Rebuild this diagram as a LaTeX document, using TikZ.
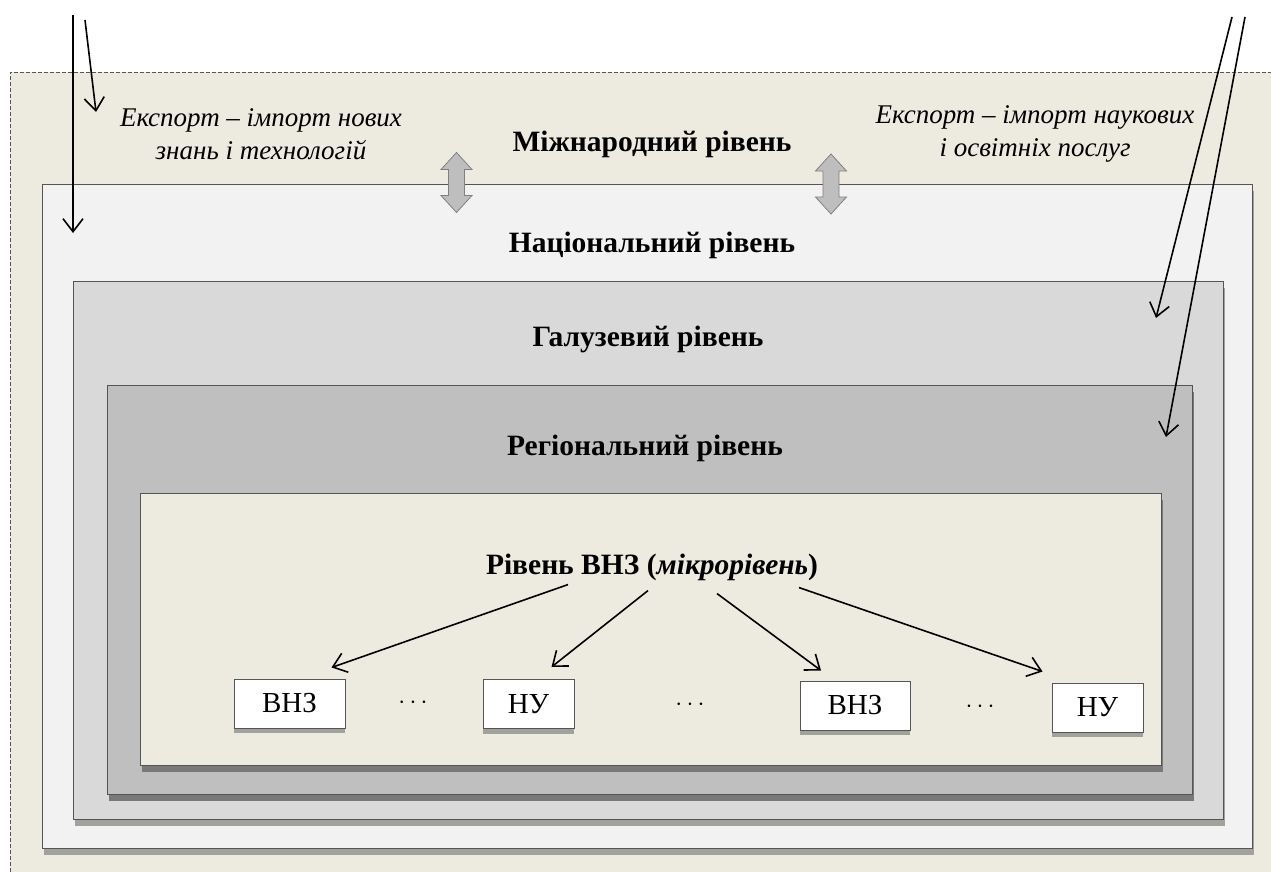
\documentclass[tikz,border=0pt]{standalone}
\usepackage{fontspec}
\setmainfont{Liberation Serif}
\usepackage{xcolor}
\usepackage{tikz}
\usetikzlibrary{positioning,calc,shadows,arrows.meta}

\definecolor{beige}{HTML}{EDEBE0}
\definecolor{natfill}{HTML}{F2F2F2}
\definecolor{galfill}{HTML}{D9D9D9}
\definecolor{regfill}{HTML}{BFBFBF}
\definecolor{boxline}{HTML}{555555}
\definecolor{shade}{HTML}{A2A29C}
\definecolor{darkshade}{HTML}{797979}
\definecolor{arrfill}{HTML}{BEBEBE}

\newcommand{\lblsize}{\fontsize{29}{33}\selectfont}

\tikzset{
  tier/.style={draw=boxline, line width=1pt, anchor=north west, inner sep=0pt,
    drop shadow={shadow xshift=1pt, shadow yshift=-6pt, fill=#1, opacity=1}},
  title/.style={font=\fontsize{29.5}{33}\selectfont\bfseries, inner sep=2pt},
  note/.style={font=\fontsize{27}{33}\selectfont\itshape, align=center, inner sep=2pt},
  unibox/.style={draw=boxline, fill=white, line width=1pt, minimum height=49pt,
    drop shadow={shadow xshift=0pt, shadow yshift=-5pt, fill=shade, opacity=1}},
  conn/.style={-{Straight Barb[length=13pt,width=20pt]}, line width=1.6pt},
  xarrow/.style={draw=gray, fill=arrfill, line width=0.8pt}
}

% grey two-way arrow between levels
\newcommand{\xchg}[1]{%
  \draw[xarrow] (#1) ++(0,-30) -- ++(15.5,17) -- ++(-7.5,0) -- ++(0,26) -- ++(7.5,0)
    -- ++(-15.5,17) -- ++(-15.5,-17) -- ++(7.5,0) -- ++(0,-26) -- ++(-7.5,0) -- cycle;}

\begin{document}
\begin{tikzpicture}[x=1pt, y=-1pt, font=\lblsize]
    \useasboundingbox (0,0) rectangle (1271,872);

    % Levels
    \node[draw=boxline, dash pattern=on 4pt off 2pt, fill=beige, anchor=north west,
      minimum width=1300pt, minimum height=840pt] (intl) at (10,72) {};
    \node[tier=shade, fill=natfill, minimum width=1210pt, minimum height=664pt] (nat) at (42,184) {};
    \node[tier=shade, fill=galfill, minimum width=1150pt, minimum height=538pt] (gal) at (73,281) {};
    \node[tier=darkshade, fill=regfill, minimum width=1085pt, minimum height=409pt] (reg) at (107,385) {};
    \node[tier=darkshade, fill=beige, minimum width=1021pt, minimum height=272pt] (mic) at (140,493) {};

    % Level titles
    \node[title] (intllbl) at (652,144) {Міжнародний рівень};
    \node[title] (natlbl) at (652,245) {Національний рівень};
    \node[title] (gallbl) at (648,339) {Галузевий рівень};
    \node[title] (reglbl) at (645,448) {Регіональний рівень};
    \node[title] (miclbl) at (652,567) {Рівень ВНЗ (\textit{мікрорівень})};

    % Export - import
    \node[note] (exp1) at (261,134) {Експорт – імпорт нових\\знань і технологій};
    \node[note] (exp2) at (1035,134) {Експорт – імпорт наукових\\і освітніх послуг};
    \coordinate (sw1) at (456.5,182.5);
    \coordinate (sw2) at (831,184);
    \xchg{sw1}
    \xchg{sw2}

    % Universities
    \node[unibox, minimum width=111pt] (vnz1) at (289.5,703.5) {ВНЗ};
    \node[unibox, minimum width=91pt] (nu1) at (528.5,704) {НУ};
    \node[unibox, minimum width=110pt] (vnz2) at (855,705.5) {ВНЗ};
    \node[unibox, minimum width=91pt] (nu2) at (1097.5,707.5) {НУ};
    \node (dots1) at (413,703) {$\cdots$};
    \node (dots2) at (690,705) {$\cdots$};
    \node (dots3) at (980,707) {$\cdots$};

    \draw[conn] ([xshift=-84pt,yshift=-2pt]miclbl.south) -- ([xshift=42pt,yshift=11pt]vnz1.north);
    \draw[conn] ([xshift=-4pt,yshift=-8pt]miclbl.south) -- ([xshift=23pt,yshift=12pt]nu1.north);
    \draw[conn] ([xshift=65pt,yshift=-11pt]miclbl.south) -- ([xshift=-34pt,yshift=10pt]vnz2.north);
    \draw[conn] ([xshift=147pt,yshift=-5pt]miclbl.south) -- ([xshift=-55pt,yshift=11pt]nu2.north);

    % Arrows from above
    \coordinate (top1) at (73,15);
    \coordinate (top2) at (85,20);
    \coordinate (top3) at (1232,17);
    \coordinate (top4) at (1245,17);
    \draw[conn] (top1) -- ([xshift=31pt,yshift=-49pt]nat.north west);
    \draw[conn] (top2) -- ([xshift=86pt,yshift=-40pt]intl.north west);
    \draw[conn] (top3) -- ([xshift=-68pt,yshift=-37pt]gal.north east);
    \draw[conn] (top4) -- ([xshift=-27pt,yshift=-52pt]reg.north east);
\end{tikzpicture}
\end{document}
